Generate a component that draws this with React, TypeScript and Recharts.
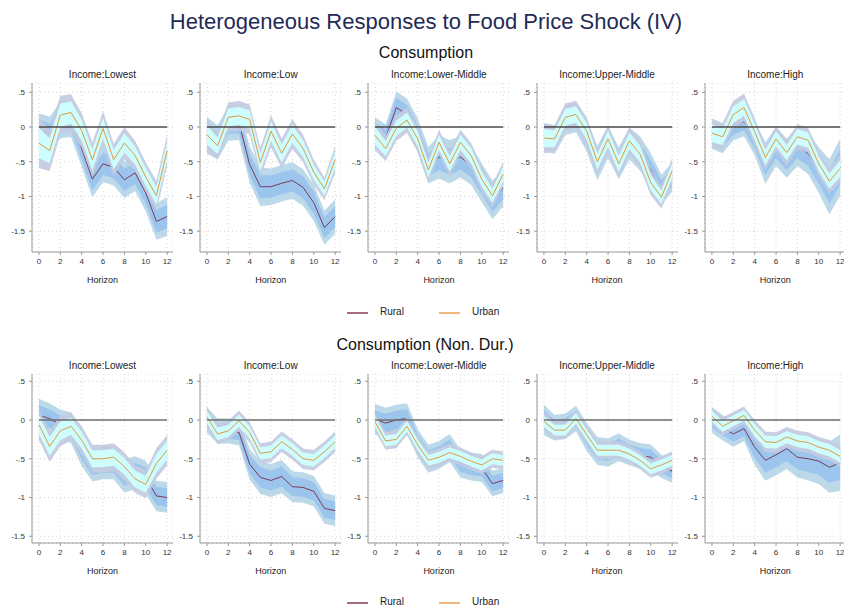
import React from "react";
import { ComposedChart, Area, Line, XAxis, YAxis, CartesianGrid } from "recharts";

// horizons and tick marks
const HORIZONS = [0, 1, 2, 3, 4, 5, 6, 7, 8, 9, 10, 11, 12];
const X_TICKS = [0, 2, 4, 6, 8, 10, 12];
const Y_TICKS_TOP = [-1.5, -1, -0.5, 0, 0.5];
const Y_TICKS_BOTTOM = [-1.5, -1, -0.5, 0, 0.5];
const INCOME_GROUPS = ["Income:Lowest", "Income:Low", "Income:Lower-Middle", "Income:Upper-Middle", "Income:High"];

// Consumption: point estimates and standard errors
const C_LOWEST_R = [-0.05, -0.1, 0.1, 0.12, -0.31, -0.75, -0.53, -0.58, -0.76, -0.66, -0.95, -1.36, -1.29];
const C_LOWEST_R_SE = [0.15, 0.15, 0.16, 0.16, 0.16, 0.16, 0.16, 0.16, 0.16, 0.16, 0.16, 0.16, 0.17];
const C_LOWEST_U = [-0.23, -0.34, 0.17, 0.21, -0.05, -0.47, -0.02, -0.47, -0.23, -0.41, -0.72, -0.99, -0.34];
const C_LOWEST_U_SE = [0.22, 0.18, 0.17, 0.16, 0.15, 0.15, 0.15, 0.14, 0.14, 0.13, 0.13, 0.13, 0.14];

const C_LOW_R = [-0.12, -0.22, 0.05, 0.06, -0.54, -0.86, -0.86, -0.81, -0.77, -0.87, -1.09, -1.45, -1.29];
const C_LOW_R_SE = [0.16, 0.15, 0.15, 0.15, 0.16, 0.17, 0.16, 0.16, 0.16, 0.16, 0.16, 0.15, 0.15];
const C_LOW_U = [-0.11, -0.27, 0.14, 0.16, 0.11, -0.51, -0.06, -0.38, -0.1, -0.31, -0.65, -0.89, -0.47];
const C_LOW_U_SE = [0.14, 0.12, 0.13, 0.13, 0.13, 0.13, 0.14, 0.13, 0.13, 0.12, 0.11, 0.1, 0.12];

const C_LMID_R = [-0.04, -0.16, 0.28, 0.18, -0.12, -0.55, -0.43, -0.5, -0.43, -0.55, -0.8, -1.05, -0.88];
const C_LMID_R_SE = [0.11, 0.12, 0.14, 0.14, 0.15, 0.16, 0.19, 0.19, 0.18, 0.17, 0.17, 0.17, 0.16];
const C_LMID_U = [-0.12, -0.31, -0.02, 0.1, -0.17, -0.62, -0.22, -0.53, -0.22, -0.41, -0.75, -0.99, -0.68];
const C_LMID_U_SE = [0.13, 0.11, 0.11, 0.11, 0.11, 0.11, 0.11, 0.11, 0.11, 0.11, 0.11, 0.1, 0.11];

const C_UMID_R = [-0.14, -0.19, 0.1, 0.14, -0.12, -0.52, -0.22, -0.52, -0.24, -0.38, -0.62, -0.9, -0.72];
const C_UMID_R_SE = [0.12, 0.12, 0.13, 0.13, 0.14, 0.15, 0.14, 0.14, 0.14, 0.15, 0.15, 0.13, 0.13];
const C_UMID_U = [-0.16, -0.17, 0.14, 0.18, -0.06, -0.5, -0.17, -0.53, -0.2, -0.39, -0.8, -1.01, -0.63];
const C_UMID_U_SE = [0.13, 0.12, 0.12, 0.12, 0.12, 0.12, 0.12, 0.12, 0.12, 0.12, 0.11, 0.1, 0.11];

const C_HIGH_R = [-0.12, -0.18, 0.02, 0.08, -0.16, -0.52, -0.28, -0.45, -0.28, -0.38, -0.62, -0.86, -0.58];
const C_HIGH_R_SE = [0.12, 0.12, 0.13, 0.13, 0.15, 0.18, 0.17, 0.17, 0.17, 0.18, 0.2, 0.24, 0.25];
const C_HIGH_U = [-0.09, -0.14, 0.18, 0.28, -0.07, -0.44, -0.17, -0.37, -0.14, -0.19, -0.53, -0.78, -0.6];
const C_HIGH_U_SE = [0.13, 0.12, 0.12, 0.12, 0.12, 0.11, 0.11, 0.11, 0.11, 0.11, 0.11, 0.11, 0.12];

// Consumption (Non. Dur.)
const N_LOWEST_R = [0.06, 0.02, -0.06, -0.1, -0.38, -0.58, -0.55, -0.55, -0.72, -0.68, -0.74, -0.98, -1.0];
const N_LOWEST_R_SE = [0.13, 0.12, 0.12, 0.12, 0.13, 0.13, 0.13, 0.13, 0.13, 0.13, 0.13, 0.12, 0.12];
const N_LOWEST_U = [-0.06, -0.34, -0.14, -0.08, -0.26, -0.5, -0.5, -0.48, -0.6, -0.76, -0.83, -0.56, -0.39];
const N_LOWEST_U_SE = [0.12, 0.12, 0.12, 0.11, 0.11, 0.11, 0.11, 0.11, 0.11, 0.11, 0.11, 0.12, 0.12];

const N_LOW_R = [0.0, -0.14, -0.14, -0.16, -0.57, -0.74, -0.78, -0.73, -0.86, -0.87, -0.92, -1.14, -1.17];
const N_LOW_R_SE = [0.1, 0.1, 0.1, 0.1, 0.12, 0.13, 0.13, 0.13, 0.12, 0.12, 0.12, 0.12, 0.12];
const N_LOW_U = [0.04, -0.18, -0.14, -0.01, -0.16, -0.43, -0.41, -0.28, -0.38, -0.5, -0.52, -0.41, -0.28];
const N_LOW_U_SE = [0.08, 0.08, 0.08, 0.08, 0.08, 0.08, 0.08, 0.08, 0.08, 0.08, 0.08, 0.08, 0.08];

const N_LMID_R = [0.01, -0.04, 0.0, 0.02, -0.3, -0.5, -0.45, -0.36, -0.56, -0.6, -0.62, -0.82, -0.78];
const N_LMID_R_SE = [0.12, 0.12, 0.12, 0.12, 0.11, 0.11, 0.11, 0.11, 0.11, 0.11, 0.11, 0.1, 0.1];
const N_LMID_U = [-0.02, -0.27, -0.25, -0.08, -0.32, -0.52, -0.48, -0.42, -0.47, -0.53, -0.58, -0.5, -0.52];
const N_LMID_U_SE = [0.07, 0.07, 0.07, 0.07, 0.07, 0.07, 0.07, 0.07, 0.07, 0.07, 0.07, 0.07, 0.07];

const N_UMID_R = [0.0, -0.1, -0.08, 0.02, -0.22, -0.4, -0.42, -0.35, -0.42, -0.46, -0.48, -0.6, -0.66];
const N_UMID_R_SE = [0.12, 0.1, 0.1, 0.1, 0.11, 0.11, 0.11, 0.11, 0.1, 0.1, 0.1, 0.09, 0.09];
const N_UMID_U = [-0.02, -0.13, -0.13, 0.02, -0.19, -0.39, -0.39, -0.39, -0.44, -0.52, -0.63, -0.58, -0.52];
const N_UMID_U_SE = [0.07, 0.07, 0.07, 0.07, 0.07, 0.07, 0.07, 0.07, 0.07, 0.07, 0.07, 0.07, 0.07];

const N_HIGH_R = [0.0, -0.1, -0.18, -0.11, -0.35, -0.52, -0.45, -0.37, -0.48, -0.5, -0.53, -0.61, -0.55];
const N_HIGH_R_SE = [0.1, 0.1, 0.1, 0.1, 0.14, 0.16, 0.16, 0.16, 0.16, 0.17, 0.18, 0.2, 0.22];
const N_HIGH_U = [0.05, -0.08, -0.01, 0.06, -0.13, -0.28, -0.29, -0.22, -0.27, -0.29, -0.35, -0.39, -0.47];
const N_HIGH_U_SE = [0.07, 0.07, 0.07, 0.07, 0.08, 0.08, 0.08, 0.08, 0.08, 0.08, 0.08, 0.08, 0.08];

// 68% and 90% bands
const Z68 = 1;
const Z90 = 1.645;

const FONT = '"Liberation Sans", Arial, Helvetica, sans-serif';
const RURAL = "#7b3a5a";
const URBAN = "#e09a3c";

function buildRows(r: number[], rSe: number[], u: number[], uSe: number[]) {
  return HORIZONS.map((h, i) => ({
    h,
    zero: 0,
    r: r[i],
    rIn: [r[i] - Z68 * rSe[i], r[i] + Z68 * rSe[i]],
    rOut: [r[i] - Z90 * rSe[i], r[i] + Z90 * rSe[i]],
    u: u[i],
    uIn: [u[i] - Z68 * uSe[i], u[i] + Z68 * uSe[i]],
    uOut: [u[i] - Z90 * uSe[i], u[i] + Z90 * uSe[i]],
  }));
}

const TOP_ROWS = [
  buildRows(C_LOWEST_R, C_LOWEST_R_SE, C_LOWEST_U, C_LOWEST_U_SE),
  buildRows(C_LOW_R, C_LOW_R_SE, C_LOW_U, C_LOW_U_SE),
  buildRows(C_LMID_R, C_LMID_R_SE, C_LMID_U, C_LMID_U_SE),
  buildRows(C_UMID_R, C_UMID_R_SE, C_UMID_U, C_UMID_U_SE),
  buildRows(C_HIGH_R, C_HIGH_R_SE, C_HIGH_U, C_HIGH_U_SE),
];

const BOTTOM_ROWS = [
  buildRows(N_LOWEST_R, N_LOWEST_R_SE, N_LOWEST_U, N_LOWEST_U_SE),
  buildRows(N_LOW_R, N_LOW_R_SE, N_LOW_U, N_LOW_U_SE),
  buildRows(N_LMID_R, N_LMID_R_SE, N_LMID_U, N_LMID_U_SE),
  buildRows(N_UMID_R, N_UMID_R_SE, N_UMID_U, N_UMID_U_SE),
  buildRows(N_HIGH_R, N_HIGH_R_SE, N_HIGH_U, N_HIGH_U_SE),
];

const fmtY = (v: number) => {
  if (v === 0) return "0";
  const s = String(Math.abs(v)).replace(/^0\./, ".");
  return (v < 0 ? "-" : "") + s;
};

const PANEL_W = 171;
const PANEL_H = 199;
const PANEL_STEP = 168.2;
const AXIS_STYLE = { stroke: "#9a9a9a" };
const TICK_STYLE = { fontSize: 8, fill: "#333", fontFamily: FONT };

function Panel({ rows, left, top, domain, ticks, title, zeroColor }: any) {
  return (
    <div style={{ position: "absolute", left, top }}>
      <div
        style={{
          position: "absolute",
          left: 30,
          width: 141,
          top: -13,
          textAlign: "center",
          fontSize: 10,
          lineHeight: "10px",
          color: "#222",
          whiteSpace: "nowrap",
        }}
      >
        {title}
      </div>
      <ComposedChart width={PANEL_W} height={PANEL_H} data={rows} margin={{ top: 0, right: 0, bottom: 0, left: 0 }}>
        <CartesianGrid stroke="#d4d4d4" strokeDasharray="1 3" />
        <XAxis
          dataKey="h"
          type="number"
          domain={[-0.65, 12.55]}
          ticks={X_TICKS}
          height={30}
          tick={TICK_STYLE}
          tickSize={3}
          tickMargin={3}
          axisLine={AXIS_STYLE}
          tickLine={AXIS_STYLE}
          allowDataOverflow
        />
        <YAxis
          type="number"
          domain={domain}
          ticks={ticks}
          width={30}
          tick={TICK_STYLE}
          tickFormatter={fmtY}
          tickSize={3}
          tickMargin={4}
          axisLine={AXIS_STYLE}
          tickLine={AXIS_STYLE}
          allowDataOverflow
        />
        <Area dataKey="rOut" stroke="none" fill="#bcd9ea" fillOpacity={1} isAnimationActive={false} activeDot={false} />
        <Area dataKey="rIn" stroke="none" fill="#9cc5ee" fillOpacity={1} isAnimationActive={false} activeDot={false} />
        {/* rural estimate drawn as an unfilled area so it stays under the urban bands */}
        <Area dataKey="r" stroke={RURAL} strokeWidth={1} fill="none" isAnimationActive={false} activeDot={false} />
        <Area dataKey="uOut" stroke="none" fill="#c4cbdf" fillOpacity={0.92} isAnimationActive={false} activeDot={false} />
        <Area dataKey="uIn" stroke="none" fill="#cdfdfd" fillOpacity={1} isAnimationActive={false} activeDot={false} />
        <Line dataKey="u" stroke={URBAN} strokeWidth={1} dot={false} isAnimationActive={false} activeDot={false} />
        <Line dataKey="zero" stroke={zeroColor} strokeWidth={1.6} dot={false} isAnimationActive={false} activeDot={false} />
      </ComposedChart>
      <div
        style={{
          position: "absolute",
          left: 30,
          width: 141,
          top: PANEL_H - 6,
          textAlign: "center",
          fontSize: 9,
          lineHeight: "9px",
          color: "#222",
        }}
      >
        Horizon
      </div>
    </div>
  );
}

function LegendRow({ top }: { top: number }) {
  const item = (x: number, color: string, label: string) => (
    <>
      <div style={{ position: "absolute", left: x, top: top, width: 21, height: 1.5, background: color }} />
      <div style={{ position: "absolute", left: x + 33, top: top - 6, fontSize: 10, lineHeight: "12px", color: "#222" }}>
        {label}
      </div>
    </>
  );
  return (
    <>
      {item(347, "#a86a80", "Rural")}
      {item(439, "#efb876", "Urban")}
    </>
  );
}

export default function App() {
  return (
    <div
      style={{
        position: "absolute",
        left: 0,
        top: 0,
        width: 844,
        height: 609,
        overflow: "hidden",
        background: "#fff",
        fontFamily: FONT,
      }}
    >
      <div
        style={{
          position: "absolute",
          left: 0,
          width: 852,
          top: 10,
          textAlign: "center",
          fontSize: 22,
          lineHeight: "24px",
          color: "#1f2b55",
        }}
      >
        Heterogeneous Responses to Food Price Shock (IV)
      </div>
      <div style={{ position: "absolute", left: 0, width: 852, top: 44, textAlign: "center", fontSize: 16, lineHeight: "18px", color: "#111" }}>
        Consumption
      </div>
      {TOP_ROWS.map((rows, i) => (
        <Panel
          key={"t" + i}
          rows={rows}
          left={2 + PANEL_STEP * i}
          top={83}
          domain={[-1.8, 0.634]}
          ticks={Y_TICKS_TOP}
          title={INCOME_GROUPS[i]}
          zeroColor="#4a4a4a"
        />
      ))}
      <LegendRow top={312} />
      <div style={{ position: "absolute", left: 0, width: 850, top: 336, textAlign: "center", fontSize: 16, lineHeight: "18px", color: "#111" }}>
        Consumption (Non. Dur.)
      </div>
      {BOTTOM_ROWS.map((rows, i) => (
        <Panel
          key={"b" + i}
          rows={rows}
          left={2 + PANEL_STEP * i}
          top={374}
          domain={[-1.587, 0.594]}
          ticks={Y_TICKS_BOTTOM}
          title={INCOME_GROUPS[i]}
          zeroColor="#6e6e6e"
        />
      ))}
      <LegendRow top={602} />
    </div>
  );
}
